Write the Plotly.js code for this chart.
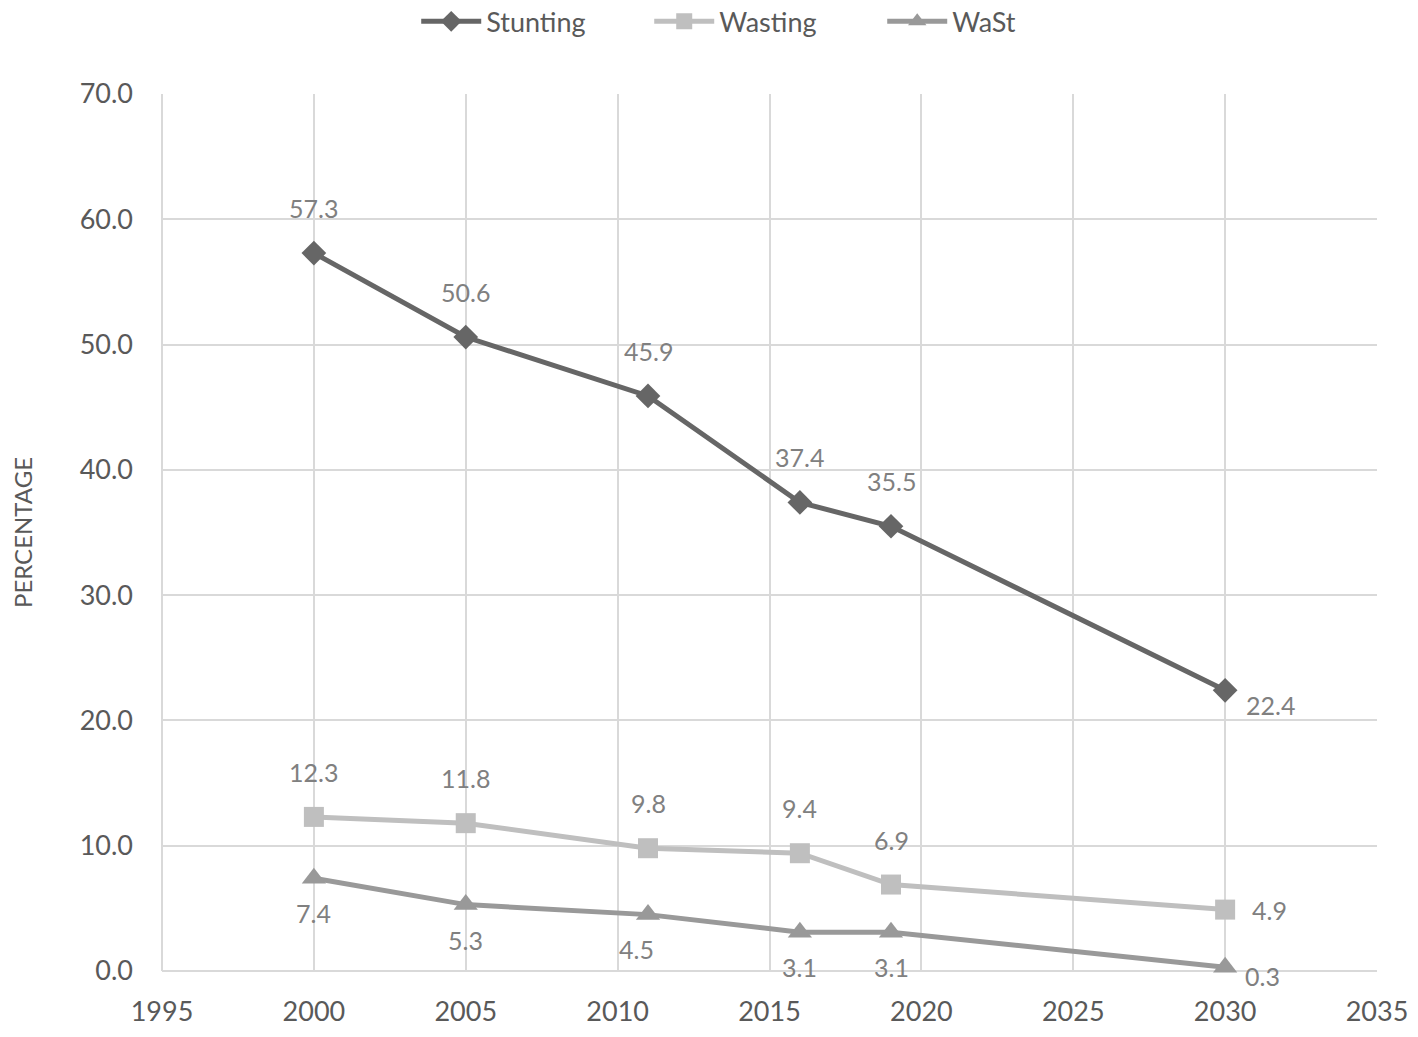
<!DOCTYPE html>
<html>
<head>
<meta charset="utf-8">
<script src="https://cdn.plot.ly/plotly-3.0.1.min.js"></script>
<style>
  html, body { margin: 0; padding: 0; background: #fff; }
  #chart { width: 1418px; height: 1037px; }
</style>
</head>
<body>
<div id="chart"></div>
<script>
const years = [2000, 2005, 2011, 2016, 2019, 2030];
const stunting = [57.3, 50.6, 45.9, 37.4, 35.5, 22.4];
const wasting = [12.3, 11.8, 9.8, 9.4, 6.9, 4.9];
const wast = [7.4, 5.3, 4.5, 3.1, 3.1, 0.3];

const font = 'Lato, "Noto Sans", sans-serif';

function series(name, y, color, symbol, size) {
    return {
        x: years,
        y: y,
        name: name,
        type: 'scatter',
        mode: 'lines+markers',
        line: {color: color, width: 5},
        marker: {color: color, symbol: symbol, size: size},
        cliponaxis: false,
    };
}

// data labels, placed like Excel does: above / below / right of the point
function labels(y, shifts) {
    return y.map((v, i) => ({
        x: years[i],
        y: v,
        text: v.toFixed(1),
        showarrow: false,
        xshift: shifts[i][0],
        yshift: shifts[i][1],
        font: {family: font, size: 25, color: '#808080'},
    }));
}

const traces = [
    series('Stunting', stunting, '#666666', 'diamond', 19),
    series('Wasting', wasting, '#bfbfbf', 'square', 20),
    series('WaSt', wast, '#999999', 'triangle-up', 21),
];

const annotations = [].concat(
    labels(stunting, [[0, 45], [0, 45], [0, 45], [0, 45], [0, 45], [45, -15]]),
    labels(wasting, [[0, 45], [0, 45], [0, 45], [0, 45], [0, 45], [44, 0]]),
    labels(wast, [[0, -35], [0, -35], [-12, -34], [0, -35], [0, -35], [37, -9]])
);

const layout = {
    width: 1418,
    height: 1037,
    margin: {l: 162, r: 41, t: 94, b: 66, autoexpand: false},
    paper_bgcolor: '#ffffff',
    plot_bgcolor: '#ffffff',
    font: {family: font, color: '#595959'},
    showlegend: true,
    legend: {
        orientation: 'h',
        x: 0.54, xanchor: 'center', xref: 'container',
        y: 0.979, yanchor: 'middle', yref: 'container',
        font: {family: font, size: 27, color: '#595959'},
        itemwidth: 60,
        entrywidth: 158,
        entrywidthmode: 'pixels',
    },
    xaxis: {
        range: [1995, 2035],
        tickvals: [1995, 2000, 2005, 2010, 2015, 2020, 2025, 2030, 2035],
        showgrid: true,
        gridcolor: '#d9d9d9',
        gridwidth: 2,
        zeroline: false,
        showline: false,
        ticks: '',
        ticklabelstandoff: 22,
        tickfont: {family: font, size: 27, color: '#595959'},
    },
    yaxis: {
        range: [0, 70],
        dtick: 10,
        tickformat: '.1f',
        showgrid: true,
        gridcolor: '#d9d9d9',
        gridwidth: 2,
        zeroline: false,
        showline: false,
        ticks: '',
        ticklabelstandoff: 28,
        tickfont: {family: font, size: 27, color: '#595959'},
        title: {text: 'PERCENTAGE', standoff: 40, font: {family: font, size: 24, color: '#595959'}},
    },
    annotations: annotations,
    shapes: [
        {type: 'line', xref: 'paper', yref: 'paper', x0: 0, x1: 0, y0: 0, y1: 1,
         line: {color: '#d9d9d9', width: 2}, layer: 'below'},
        {type: 'line', xref: 'paper', yref: 'paper', x0: 0, x1: 1, y0: 0, y1: 0,
         line: {color: '#d9d9d9', width: 2}, layer: 'below'},
    ],
};

Plotly.newPlot('chart', traces, layout, {displayModeBar: false, staticPlot: true});
</script>
</body>
</html>
